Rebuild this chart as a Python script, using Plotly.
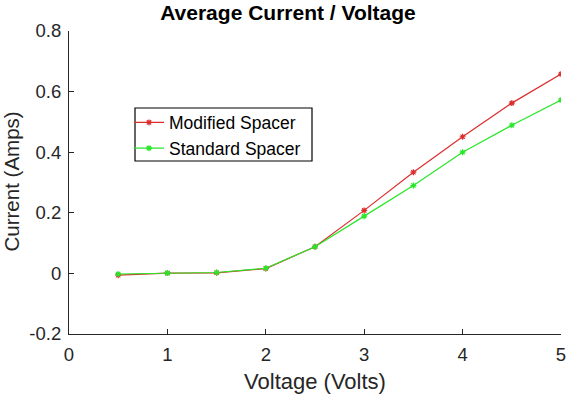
import plotly.graph_objects as go

voltage = [0.5, 1.0, 1.5, 2.0, 2.5, 3.0, 3.5, 4.0, 4.5, 5.0]
modified = [-0.006, 0.001, 0.002, 0.016, 0.088, 0.208, 0.334, 0.451, 0.562, 0.658]
standard = [-0.002, 0.001, 0.003, 0.017, 0.088, 0.189, 0.290, 0.400, 0.489, 0.572]
x_ticks = [0, 1, 2, 3, 4, 5]
y_ticks = [-0.2, 0, 0.2, 0.4, 0.6, 0.8]
y_tick_text = ["-0.2", "0", "0.2", "0.4", "0.6", "0.8"]

red = "rgb(220,45,45)"
green = "rgb(40,230,40)"

fig = go.Figure()
fig.add_trace(go.Scatter(x=voltage, y=modified, mode="lines+markers", name="Modified Spacer",
                         line=dict(color=red, width=1.2),
                         marker=dict(symbol="asterisk", size=5, color=red, line=dict(color=red, width=1.2))))
fig.add_trace(go.Scatter(x=voltage, y=standard, mode="lines+markers", name="Standard Spacer",
                         line=dict(color=green, width=1.2),
                         marker=dict(symbol="asterisk", size=5, color=green, line=dict(color=green, width=1.2))))

font = "Arial, Liberation Sans, Helvetica, sans-serif"
W, H = 570, 398
L, R, T, B = 69, 9, 31, 64
pw, ph = W - L - R, H - T - B

def px(x):
    return (x - L) / pw

def py(y):
    return (H - B - y) / ph

fig.update_layout(
    width=W, height=H,
    margin=dict(l=L, r=R, t=T, b=B, autoexpand=False),
    paper_bgcolor="white", plot_bgcolor="white",
    font=dict(family=font, size=18.5, color="#262626"),
    title=dict(text="<b>Average Current / Voltage</b>", x=288 / W, xanchor="center",
               y=1 - 13 / H, yanchor="middle",
               font=dict(family=font, size=21, color="black"), automargin=False),
    showlegend=True,
    legend=dict(x=px(129), y=py(104.5), xanchor="left", yanchor="top",
                borderwidth=0, bgcolor="rgba(0,0,0,0)",
                font=dict(family=font, size=17.5, color="black"), itemwidth=30, tracegroupgap=0),
    xaxis=dict(range=[0, 5], tickvals=x_ticks, showgrid=False, zeroline=False, automargin=False,
               showline=True, linecolor="#262626", linewidth=1.2, ticks="inside", ticklen=5,
               tickcolor="#262626", ticklabelstandoff=4,
               title=dict(text="Voltage (Volts)", standoff=9,
                          font=dict(family=font, size=22, color="#262626"))),
    yaxis=dict(range=[-0.2, 0.8], tickvals=y_ticks, ticktext=y_tick_text, showgrid=False, zeroline=False,
               automargin=False,
               showline=True, linecolor="#262626", linewidth=1.2, ticks="inside", ticklen=5,
               tickcolor="#262626", ticklabelstandoff=3),
    shapes=[dict(type="rect", xref="paper", yref="paper",
                 x0=px(135), x1=px(312), y0=py(161), y1=py(108),
                 line=dict(color="black", width=1.2), fillcolor="white", layer="above")],
    annotations=[dict(text="Current (Amps)", textangle=-90, xref="paper", yref="paper",
                      x=px(10.5), y=py(182), xanchor="center", yanchor="middle", showarrow=False,
                      font=dict(family=font, size=20.5, color="#262626"))],
)

fig.write_html("out.html", post_script="document.body.style.margin='0';",
               config={"displayModeBar": False})
